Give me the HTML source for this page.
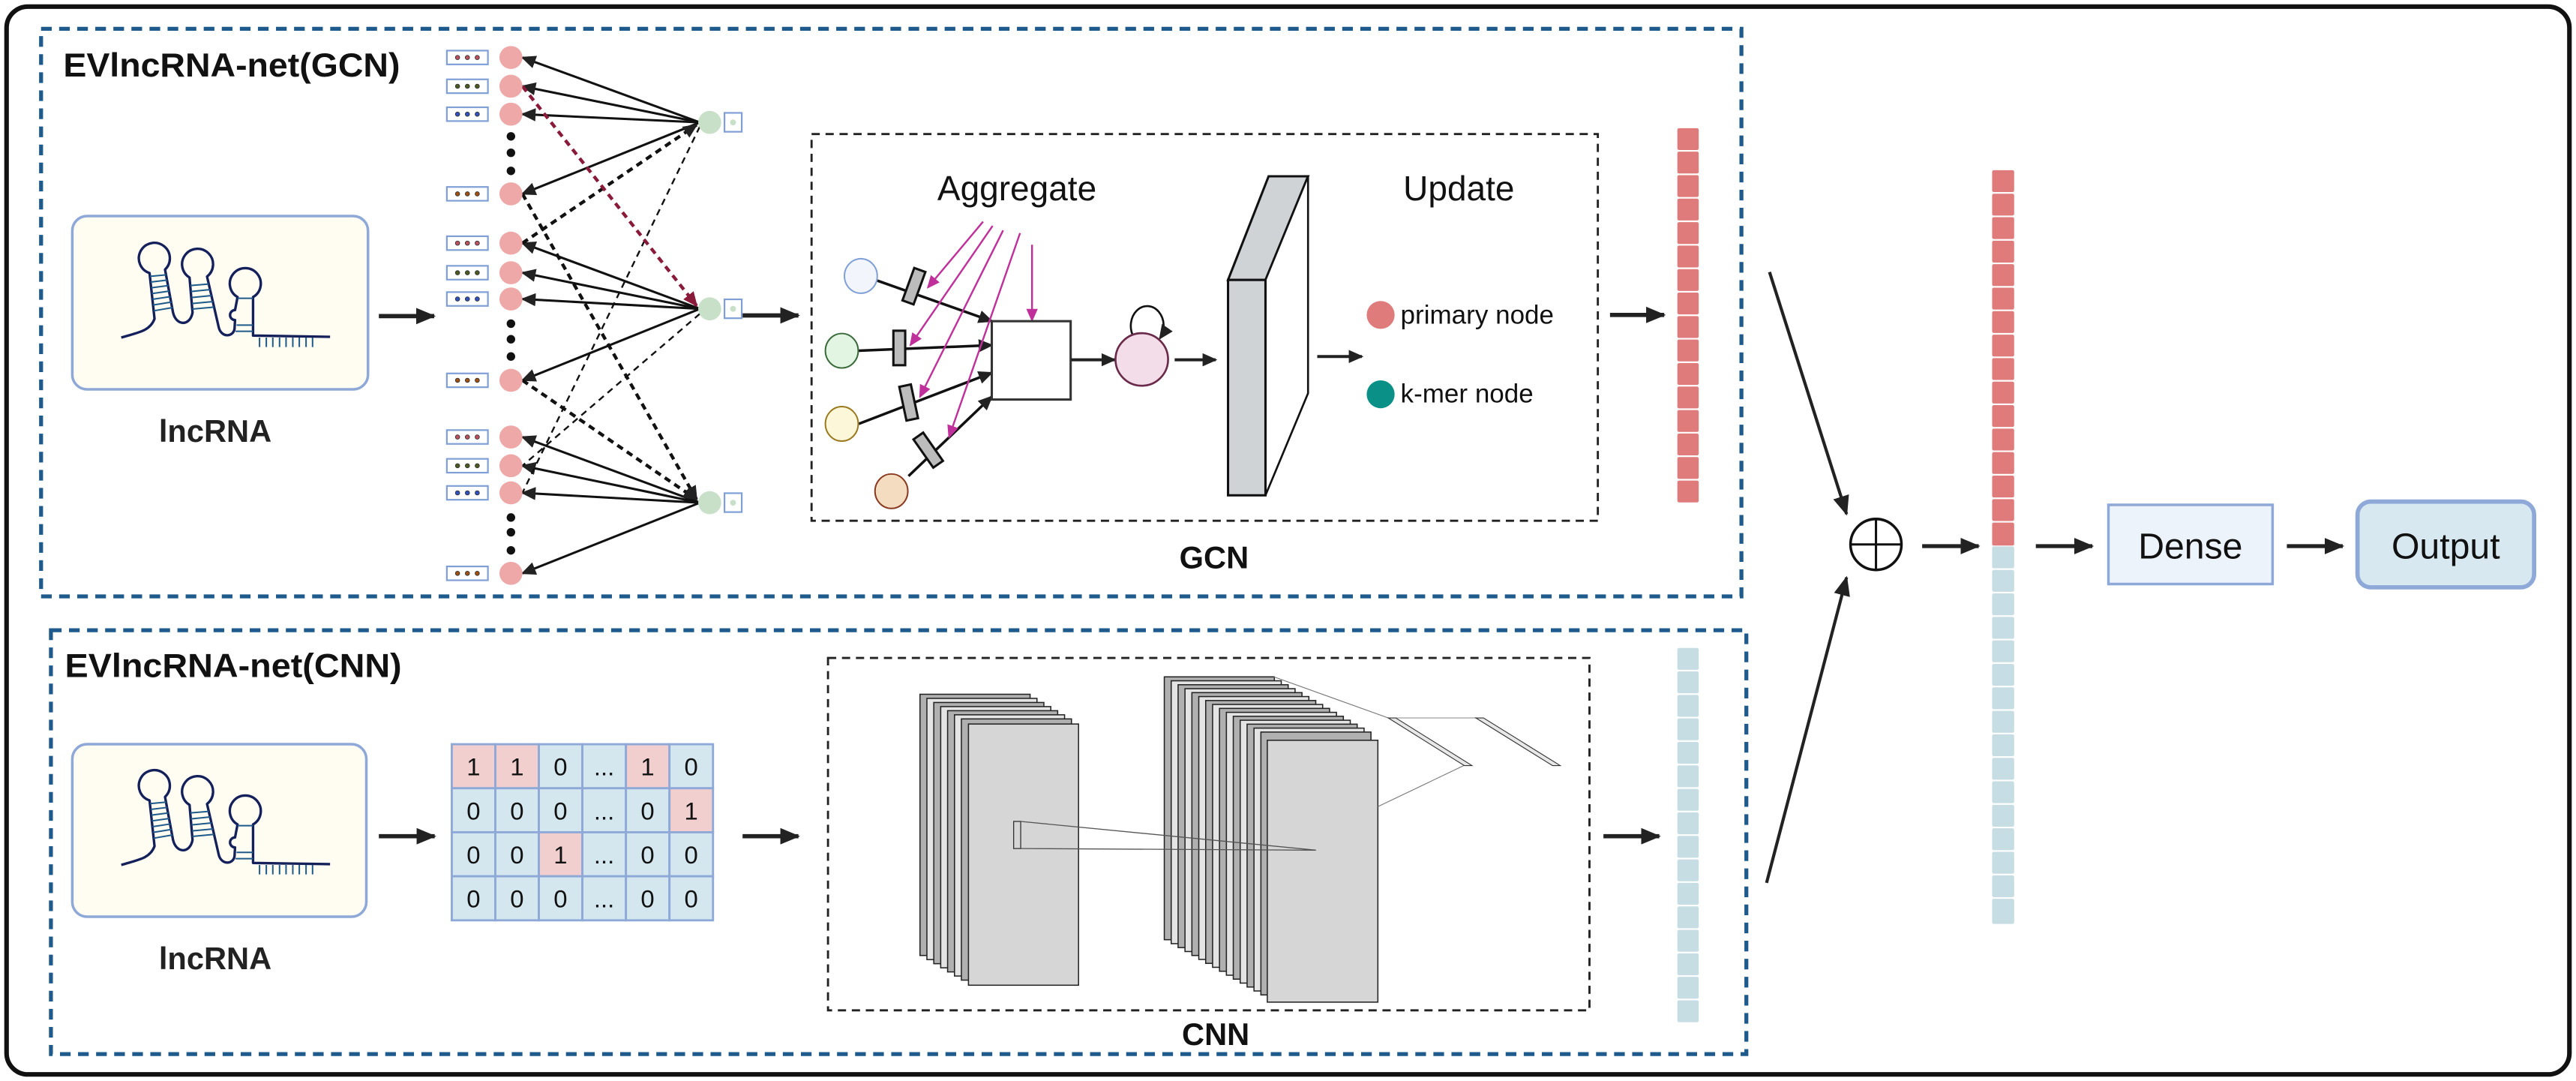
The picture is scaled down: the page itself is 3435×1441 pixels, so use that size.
<!DOCTYPE html>
<html><head><meta charset="utf-8">
<style>html,body{margin:0;padding:0;background:#fff}svg{display:block}</style>
</head><body>
<svg width="3435" height="1441" viewBox="0 0 1568 658" preserveAspectRatio="none" xmlns="http://www.w3.org/2000/svg" font-family="Liberation Sans, sans-serif">
<defs>
<marker id="ah" markerUnits="userSpaceOnUse" markerWidth="12" markerHeight="10" refX="11" refY="5" orient="auto"><path d="M0,0 L12,5 L0,10 z" fill="#222"/></marker>
<marker id="ahs" markerUnits="userSpaceOnUse" markerWidth="9" markerHeight="8" refX="8" refY="4" orient="auto"><path d="M0,0 L9,4 L0,8 z" fill="#222"/></marker>
<marker id="ahr" markerUnits="userSpaceOnUse" markerWidth="9" markerHeight="8" refX="8" refY="4" orient="auto"><path d="M0,0 L9,4 L0,8 z" fill="#8a1a3a"/></marker>
<marker id="ahm" markerUnits="userSpaceOnUse" markerWidth="8" markerHeight="7" refX="7" refY="3.5" orient="auto"><path d="M0,0 L8,3.5 L0,7 z" fill="#c0309a"/></marker>
<g id="rna">
<path d="M185,540 C250,520 300,515 318,465 L298,282 A62,62 0 1 1 360,268 L392,440 C405,495 460,495 470,440 L458,300 A62,62 0 1 1 528,296 L575,500 C585,540 632,540 638,505 L640,470 A20,20 0 0 1 640,430 L650,378 A62,62 0 1 1 712,378 L712,532 L1020,537" fill="none" stroke="#13205a" stroke-width="10" stroke-linejoin="round"/>
<g stroke="#1e5a8a" stroke-width="6">
<line x1="300" y1="295" x2="365" y2="289"/><line x1="302" y1="318" x2="369" y2="310"/><line x1="305" y1="341" x2="374" y2="332"/><line x1="307" y1="364" x2="378" y2="354"/><line x1="310" y1="387" x2="382" y2="376"/><line x1="312" y1="410" x2="386" y2="398"/><line x1="315" y1="433" x2="390" y2="420"/>
<line x1="461" y1="332" x2="535" y2="326"/><line x1="463" y1="356" x2="541" y2="348"/><line x1="466" y1="380" x2="546" y2="372"/><line x1="468" y1="404" x2="552" y2="396"/><line x1="469" y1="426" x2="556" y2="418"/>
<line x1="650" y1="383" x2="712" y2="383"/><line x1="646" y1="490" x2="712" y2="490"/><line x1="642" y1="515" x2="712" y2="515"/>
<path d="M738,540V578M765,540V578M791,540V578M818,540V578M844,540V578M871,540V578M897,540V578M924,540V578M950,540V578"/>
</g>
</g>
</defs>

<rect x="4" y="4" width="1560" height="650" rx="13" fill="#fff" stroke="#111" stroke-width="2.8"/>

<rect x="25" y="17.5" width="1035" height="345.5" fill="none" stroke="#1f5a8c" stroke-width="2.4" stroke-dasharray="6.5 4.5"/>
<text x="38.5" y="46.6" font-size="20.5" font-weight="bold" textLength="205" lengthAdjust="spacingAndGlyphs" fill="#111">EVlncRNA-net(GCN)</text>

<rect x="44" y="131.5" width="180" height="105.5" rx="9" fill="#fffcf2" stroke="#8ea9d8" stroke-width="1.6"/>
<use href="#rna" transform="scale(0.45662) translate(100,270) scale(0.33333)"/>
<text x="131" y="269" font-size="19" font-weight="bold" text-anchor="middle" fill="#222">lncRNA</text>
<line x1="230.6" y1="192.4" x2="264.3" y2="192.4" stroke="#222" stroke-width="2.6" marker-end="url(#ah)"/>

<g stroke="#111" stroke-width="1.4" fill="none">
<line x1="426" y1="74.5" x2="318" y2="35" marker-end="url(#ahs)"/>
<line x1="426" y1="74.5" x2="318" y2="52.5" marker-end="url(#ahs)"/>
<line x1="426" y1="74.5" x2="318" y2="69.5" marker-end="url(#ahs)"/>
<line x1="426" y1="74.5" x2="318" y2="118" marker-end="url(#ahs)"/>
<line x1="426" y1="188" x2="318" y2="148" marker-end="url(#ahs)"/>
<line x1="426" y1="188" x2="318" y2="166" marker-end="url(#ahs)"/>
<line x1="426" y1="188" x2="318" y2="182" marker-end="url(#ahs)"/>
<line x1="426" y1="188" x2="318" y2="231.5" marker-end="url(#ahs)"/>
<line x1="426" y1="306" x2="318" y2="266" marker-end="url(#ahs)"/>
<line x1="426" y1="306" x2="318" y2="283.5" marker-end="url(#ahs)"/>
<line x1="426" y1="306" x2="318" y2="300" marker-end="url(#ahs)"/>
<line x1="426" y1="306" x2="318" y2="349" marker-end="url(#ahs)"/>
<g stroke-dasharray="4 3" stroke-width="2">
<line x1="318" y1="118" x2="424" y2="304" marker-end="url(#ahs)"/>
<line x1="318" y1="148" x2="424" y2="76" marker-end="url(#ahs)"/>
<line x1="318" y1="231.5" x2="424" y2="304" marker-end="url(#ahs)"/>
</g>
<g stroke-dasharray="4 3" stroke-width="1.1">
<line x1="426" y1="77" x2="318" y2="300"/>
<line x1="426" y1="191" x2="318" y2="283.5"/>
</g>
<line x1="318" y1="52.5" x2="424" y2="186" stroke="#8a1a3a" stroke-width="2" stroke-dasharray="4 3" marker-end="url(#ahr)"/>
</g>

<g>
<g fill="#efa8a8">
<circle cx="311" cy="35" r="7"/><circle cx="311" cy="52.5" r="7"/><circle cx="311" cy="69.5" r="7"/><circle cx="311" cy="118" r="7"/>
<circle cx="311" cy="148" r="7"/><circle cx="311" cy="166" r="7"/><circle cx="311" cy="182" r="7"/><circle cx="311" cy="231.5" r="7"/>
<circle cx="311" cy="266" r="7"/><circle cx="311" cy="283.5" r="7"/><circle cx="311" cy="300" r="7"/><circle cx="311" cy="349" r="7"/>
</g>
<g fill="#111">
<circle cx="311" cy="83" r="2.6"/><circle cx="311" cy="93" r="2.6"/><circle cx="311" cy="104" r="2.6"/>
<circle cx="311" cy="197" r="2.6"/><circle cx="311" cy="206.5" r="2.6"/><circle cx="311" cy="217" r="2.6"/>
<circle cx="311" cy="315" r="2.6"/><circle cx="311" cy="324" r="2.6"/><circle cx="311" cy="335" r="2.6"/>
</g>
<g fill="#fff" stroke="#7f9fd6" stroke-width="1">
<rect x="272" y="30.8" width="25" height="8.4"/><rect x="272" y="48.3" width="25" height="8.4"/><rect x="272" y="65.3" width="25" height="8.4"/><rect x="272" y="113.8" width="25" height="8.4"/>
<rect x="272" y="143.8" width="25" height="8.4"/><rect x="272" y="161.8" width="25" height="8.4"/><rect x="272" y="177.8" width="25" height="8.4"/><rect x="272" y="227.3" width="25" height="8.4"/>
<rect x="272" y="261.8" width="25" height="8.4"/><rect x="272" y="279.3" width="25" height="8.4"/><rect x="272" y="295.8" width="25" height="8.4"/><rect x="272" y="344.8" width="25" height="8.4"/>
</g>
<g stroke="#333" stroke-width="0.4">
<g fill="#c05060"><circle cx="278.5" cy="35" r="1.3"/><circle cx="284.5" cy="35" r="1.3"/><circle cx="290.5" cy="35" r="1.3"/><circle cx="278.5" cy="148" r="1.3"/><circle cx="284.5" cy="148" r="1.3"/><circle cx="290.5" cy="148" r="1.3"/><circle cx="278.5" cy="266" r="1.3"/><circle cx="284.5" cy="266" r="1.3"/><circle cx="290.5" cy="266" r="1.3"/></g>
<g fill="#4a5a20"><circle cx="278.5" cy="52.5" r="1.3"/><circle cx="284.5" cy="52.5" r="1.3"/><circle cx="290.5" cy="52.5" r="1.3"/><circle cx="278.5" cy="166" r="1.3"/><circle cx="284.5" cy="166" r="1.3"/><circle cx="290.5" cy="166" r="1.3"/><circle cx="278.5" cy="283.5" r="1.3"/><circle cx="284.5" cy="283.5" r="1.3"/><circle cx="290.5" cy="283.5" r="1.3"/></g>
<g fill="#3050c0"><circle cx="278.5" cy="69.5" r="1.3"/><circle cx="284.5" cy="69.5" r="1.3"/><circle cx="290.5" cy="69.5" r="1.3"/><circle cx="278.5" cy="182" r="1.3"/><circle cx="284.5" cy="182" r="1.3"/><circle cx="290.5" cy="182" r="1.3"/><circle cx="278.5" cy="300" r="1.3"/><circle cx="284.5" cy="300" r="1.3"/><circle cx="290.5" cy="300" r="1.3"/></g>
<g fill="#a05010"><circle cx="278.5" cy="118" r="1.3"/><circle cx="284.5" cy="118" r="1.3"/><circle cx="290.5" cy="118" r="1.3"/><circle cx="278.5" cy="231.5" r="1.3"/><circle cx="284.5" cy="231.5" r="1.3"/><circle cx="290.5" cy="231.5" r="1.3"/><circle cx="278.5" cy="349" r="1.3"/><circle cx="284.5" cy="349" r="1.3"/><circle cx="290.5" cy="349" r="1.3"/></g>
</g>
</g>
<g>
<circle cx="432" cy="74.5" r="7" fill="#c8dfc8"/><circle cx="432" cy="188" r="7" fill="#c8dfc8"/><circle cx="432" cy="306" r="7" fill="#c8dfc8"/>
<g fill="#fff" stroke="#7f9fd6" stroke-width="1"><rect x="441" y="68.7" width="10.5" height="11.5"/><rect x="441" y="182.2" width="10.5" height="11.5"/><rect x="441" y="300.2" width="10.5" height="11.5"/></g>
<g fill="#c8dfc8"><circle cx="446.2" cy="74.5" r="1.8"/><circle cx="446.2" cy="188" r="1.8"/><circle cx="446.2" cy="306" r="1.8"/></g>
</g>
<line x1="452" y1="192" x2="486" y2="192" stroke="#222" stroke-width="2.6" marker-end="url(#ah)"/>

<rect x="494" y="81.6" width="478.6" height="235.4" fill="none" stroke="#222" stroke-width="1.3" stroke-dasharray="5 3.5"/>
<text x="619" y="122" font-size="21" text-anchor="middle" fill="#111">Aggregate</text>
<text x="888" y="122" font-size="21" text-anchor="middle" fill="#111">Update</text>
<text x="739" y="346" font-size="19" font-weight="bold" text-anchor="middle" fill="#111">GCN</text>

<g stroke="#111" stroke-width="1.6" fill="none">
<line x1="534" y1="170.8" x2="603.7" y2="195.5" marker-end="url(#ahs)"/>
<line x1="522.7" y1="213.5" x2="603.7" y2="210.1" marker-end="url(#ahs)"/>
<line x1="522.7" y1="258" x2="603.7" y2="226.9" marker-end="url(#ahs)"/>
<line x1="553" y1="289.8" x2="603.7" y2="241.4" marker-end="url(#ahs)"/>
</g>
<ellipse cx="524" cy="168" rx="10" ry="10.5" fill="#f2f6fc" stroke="#7f9fd6" stroke-width="0.9"/>
<ellipse cx="512.4" cy="213.5" rx="10" ry="10.5" fill="#e2f4e2" stroke="#3a6a3a" stroke-width="0.9"/>
<ellipse cx="512.4" cy="258" rx="10" ry="10.5" fill="#fbf7d8" stroke="#9a7a20" stroke-width="0.9"/>
<ellipse cx="542.6" cy="299" rx="10" ry="10.5" fill="#f4dcc0" stroke="#8a3a20" stroke-width="0.9"/>
<g fill="#bcbcbc" stroke="#111" stroke-width="1.4">
<rect x="-3.6" y="-10.5" width="7.2" height="21" transform="translate(556.3,174.2) rotate(20)"/>
<rect x="-3.6" y="-10.5" width="7.2" height="21" transform="translate(547.4,211.8)"/>
<rect x="-3.6" y="-10.5" width="7.2" height="21" transform="translate(553.1,245) rotate(-12)"/>
<rect x="-3.6" y="-10.5" width="7.2" height="21" transform="translate(565,274) rotate(-35)"/>
</g>
<g stroke="#c0309a" stroke-width="1.1">
<line x1="598.4" y1="134.9" x2="564.8" y2="175" marker-end="url(#ahm)"/>
<line x1="604.2" y1="137.5" x2="554.2" y2="210" marker-end="url(#ahm)"/>
<line x1="610.6" y1="140.2" x2="560" y2="241.5" marker-end="url(#ahm)"/>
<line x1="620.9" y1="141.9" x2="577.7" y2="266" marker-end="url(#ahm)"/>
<line x1="628.2" y1="149" x2="628.2" y2="195" marker-end="url(#ahm)"/>
</g>
<rect x="603.7" y="195.5" width="48" height="47.7" fill="#fff" stroke="#333" stroke-width="1.4"/>
<line x1="652" y1="219" x2="678.5" y2="219" stroke="#222" stroke-width="1.8" marker-end="url(#ahs)"/>
<path d="M690,205 A10,12 0 1 1 706,206" fill="none" stroke="#111" stroke-width="1.2" marker-end="url(#ahs)"/>
<circle cx="695" cy="218.8" r="16" fill="#f2dde8" stroke="#6a2a4a" stroke-width="1.2"/>
<line x1="715" y1="219" x2="740" y2="219" stroke="#222" stroke-width="1.8" marker-end="url(#ahs)"/>
<polygon points="747.5,170.4 772.2,107.3 796.2,107.3 770.3,170.4" fill="#d0d3d6" stroke="#111" stroke-width="1.4"/>
<polygon points="770.3,170.4 796.2,107.3 796.2,239.4 770.3,301.5" fill="#fff" stroke="#111" stroke-width="1.2"/>
<rect x="747.5" y="170.4" width="22.8" height="131.1" fill="#d0d3d6" stroke="#111" stroke-width="1.4"/>
<line x1="801.8" y1="217" x2="829" y2="217" stroke="#222" stroke-width="1.8" marker-end="url(#ahs)"/>
<circle cx="840.4" cy="191.7" r="8.5" fill="#e07b7b"/>
<text x="852.5" y="197" font-size="16" fill="#111">primary node</text>
<circle cx="840.4" cy="240" r="8.5" fill="#0b9088"/>
<text x="852.5" y="245" font-size="16" fill="#111">k-mer node</text>

<line x1="980" y1="191.7" x2="1013" y2="191.7" stroke="#222" stroke-width="2.6" marker-end="url(#ah)"/>
<g fill="#e07b7b">
<rect x="1021" y="78" width="13" height="13.3" rx="1"/><rect x="1021" y="92.3" width="13" height="13.3" rx="1"/><rect x="1021" y="106.6" width="13" height="13.3" rx="1"/><rect x="1021" y="120.9" width="13" height="13.3" rx="1"/>
<rect x="1021" y="135.2" width="13" height="13.3" rx="1"/><rect x="1021" y="149.5" width="13" height="13.3" rx="1"/><rect x="1021" y="163.8" width="13" height="13.3" rx="1"/><rect x="1021" y="178.1" width="13" height="13.3" rx="1"/>
<rect x="1021" y="192.4" width="13" height="13.3" rx="1"/><rect x="1021" y="206.7" width="13" height="13.3" rx="1"/><rect x="1021" y="221" width="13" height="13.3" rx="1"/><rect x="1021" y="235.3" width="13" height="13.3" rx="1"/>
<rect x="1021" y="249.6" width="13" height="13.3" rx="1"/><rect x="1021" y="263.9" width="13" height="13.3" rx="1"/><rect x="1021" y="278.2" width="13" height="13.3" rx="1"/><rect x="1021" y="292.5" width="13" height="13.3" rx="1"/>
</g>

<rect x="31" y="383.6" width="1032" height="258" fill="none" stroke="#1f5a8c" stroke-width="2.4" stroke-dasharray="6.5 4.5"/>
<text x="39.5" y="412" font-size="20.5" font-weight="bold" textLength="205" lengthAdjust="spacingAndGlyphs" fill="#111">EVlncRNA-net(CNN)</text>
<rect x="44" y="453" width="179" height="105" rx="9" fill="#fffcf2" stroke="#8ea9d8" stroke-width="1.6"/>
<use href="#rna" transform="translate(0,321) scale(0.45662) translate(100,270) scale(0.33333)"/>
<text x="131" y="590" font-size="19" font-weight="bold" text-anchor="middle" fill="#222">lncRNA</text>
<line x1="230.6" y1="509" x2="264.6" y2="509" stroke="#222" stroke-width="2.6" marker-end="url(#ah)"/>

<g stroke="#8ea9d8" stroke-width="1.3" font-size="15" text-anchor="middle">
<g fill="#d4e7ef">
<rect x="275" y="453" width="26.5" height="26.8" fill="#f2cfcf"/><rect x="301.5" y="453" width="26.5" height="26.8" fill="#f2cfcf"/><rect x="328" y="453" width="26.5" height="26.8"/><rect x="354.5" y="453" width="26.5" height="26.8"/><rect x="381" y="453" width="26.5" height="26.8" fill="#f2cfcf"/><rect x="407.5" y="453" width="26.5" height="26.8"/>
<rect x="275" y="479.8" width="26.5" height="26.8"/><rect x="301.5" y="479.8" width="26.5" height="26.8"/><rect x="328" y="479.8" width="26.5" height="26.8"/><rect x="354.5" y="479.8" width="26.5" height="26.8"/><rect x="381" y="479.8" width="26.5" height="26.8"/><rect x="407.5" y="479.8" width="26.5" height="26.8" fill="#f2cfcf"/>
<rect x="275" y="506.6" width="26.5" height="26.8"/><rect x="301.5" y="506.6" width="26.5" height="26.8"/><rect x="328" y="506.6" width="26.5" height="26.8" fill="#f2cfcf"/><rect x="354.5" y="506.6" width="26.5" height="26.8"/><rect x="381" y="506.6" width="26.5" height="26.8"/><rect x="407.5" y="506.6" width="26.5" height="26.8"/>
<rect x="275" y="533.4" width="26.5" height="26.8"/><rect x="301.5" y="533.4" width="26.5" height="26.8"/><rect x="328" y="533.4" width="26.5" height="26.8"/><rect x="354.5" y="533.4" width="26.5" height="26.8"/><rect x="381" y="533.4" width="26.5" height="26.8"/><rect x="407.5" y="533.4" width="26.5" height="26.8"/>
</g>
<g fill="#111" stroke="none">
<text x="288.2" y="472">1</text><text x="314.7" y="472">1</text><text x="341.2" y="472">0</text><text x="367.7" y="472">...</text><text x="394.2" y="472">1</text><text x="420.7" y="472">0</text>
<text x="288.2" y="498.8">0</text><text x="314.7" y="498.8">0</text><text x="341.2" y="498.8">0</text><text x="367.7" y="498.8">...</text><text x="394.2" y="498.8">0</text><text x="420.7" y="498.8">1</text>
<text x="288.2" y="525.6">0</text><text x="314.7" y="525.6">0</text><text x="341.2" y="525.6">1</text><text x="367.7" y="525.6">...</text><text x="394.2" y="525.6">0</text><text x="420.7" y="525.6">0</text>
<text x="288.2" y="552.4">0</text><text x="314.7" y="552.4">0</text><text x="341.2" y="552.4">0</text><text x="367.7" y="552.4">...</text><text x="394.2" y="552.4">0</text><text x="420.7" y="552.4">0</text>
</g>
</g>
<line x1="452" y1="509" x2="486" y2="509" stroke="#222" stroke-width="2.6" marker-end="url(#ah)"/>

<rect x="504" y="400.5" width="463.5" height="214.5" fill="none" stroke="#222" stroke-width="1.3" stroke-dasharray="5 3.5"/>
<text x="740" y="636" font-size="19" font-weight="bold" text-anchor="middle" fill="#111">CNN</text>

<g stroke="#222" stroke-width="0.7">
<rect x="560" y="422.6" width="67" height="159" fill="#b0b0b0"/>
<rect x="564.2" y="425.1" width="67" height="159" fill="#e4e4e4"/>
<rect x="568.4" y="427.6" width="67" height="159" fill="#b0b0b0"/>
<rect x="572.6" y="430.1" width="67" height="159" fill="#e4e4e4"/>
<rect x="576.8" y="432.6" width="67" height="159" fill="#b0b0b0"/>
<rect x="581" y="435.1" width="67" height="159" fill="#e4e4e4"/>
<rect x="585.2" y="437.6" width="67" height="159" fill="#b0b0b0"/>
<rect x="589.5" y="440.7" width="67" height="159" fill="#d6d6d6"/>
</g>
<g stroke="#222" stroke-width="0.7">
<rect x="708.7" y="412" width="67" height="160" fill="#b0b0b0"/>
<rect x="712.9" y="414.4" width="67" height="160" fill="#e4e4e4"/>
<rect x="717.1" y="416.8" width="67" height="160" fill="#b0b0b0"/>
<rect x="721.3" y="419.2" width="67" height="160" fill="#e4e4e4"/>
<rect x="725.5" y="421.6" width="67" height="160" fill="#b0b0b0"/>
<rect x="729.7" y="424" width="67" height="160" fill="#e4e4e4"/>
<rect x="733.9" y="426.4" width="67" height="160" fill="#b0b0b0"/>
<rect x="738.1" y="428.8" width="67" height="160" fill="#e4e4e4"/>
<rect x="742.3" y="431.2" width="67" height="160" fill="#b0b0b0"/>
<rect x="746.5" y="433.6" width="67" height="160" fill="#e4e4e4"/>
<rect x="750.7" y="436" width="67" height="160" fill="#b0b0b0"/>
<rect x="754.9" y="438.4" width="67" height="160" fill="#e4e4e4"/>
<rect x="759.1" y="440.8" width="67" height="160" fill="#b0b0b0"/>
<rect x="763.3" y="443.2" width="67" height="160" fill="#e4e4e4"/>
<rect x="767.5" y="445.6" width="67" height="160" fill="#b0b0b0"/>
<rect x="771.4" y="450.6" width="67.3" height="159.4" fill="#d6d6d6"/>
</g>
<rect x="617" y="500" width="4.3" height="16.5" fill="none" stroke="#333" stroke-width="0.6"/>
<path d="M621.3,500 L801,517.5 L621.3,516.5" fill="none" stroke="#555" stroke-width="0.6"/>
<path d="M775.4,412 L845,437 M838.7,491 L891,466" fill="none" stroke="#777" stroke-width="0.5"/>
<line x1="849.6" y1="437" x2="898.3" y2="437" stroke="#bbb" stroke-width="0.8"/>
<polygon points="845,437 849.6,437 896,466 891.3,466" fill="#e8e8e8" stroke="#333" stroke-width="0.5"/>
<polygon points="898.3,437 903,437 949.7,466 945,466" fill="#e8e8e8" stroke="#333" stroke-width="0.5"/>

<line x1="976" y1="509" x2="1010" y2="509" stroke="#222" stroke-width="2.6" marker-end="url(#ah)"/>
<g fill="#c6dde4">
<rect x="1021" y="394.4" width="13" height="13.3" rx="1"/><rect x="1021" y="408.7" width="13" height="13.3" rx="1"/><rect x="1021" y="423" width="13" height="13.3" rx="1"/><rect x="1021" y="437.3" width="13" height="13.3" rx="1"/>
<rect x="1021" y="451.6" width="13" height="13.3" rx="1"/><rect x="1021" y="465.9" width="13" height="13.3" rx="1"/><rect x="1021" y="480.2" width="13" height="13.3" rx="1"/><rect x="1021" y="494.5" width="13" height="13.3" rx="1"/>
<rect x="1021" y="508.8" width="13" height="13.3" rx="1"/><rect x="1021" y="523.1" width="13" height="13.3" rx="1"/><rect x="1021" y="537.4" width="13" height="13.3" rx="1"/><rect x="1021" y="551.7" width="13" height="13.3" rx="1"/>
<rect x="1021" y="566" width="13" height="13.3" rx="1"/><rect x="1021" y="580.3" width="13" height="13.3" rx="1"/><rect x="1021" y="594.6" width="13" height="13.3" rx="1"/><rect x="1021" y="608.9" width="13" height="13.3" rx="1"/>
</g>

<line x1="1077.1" y1="165.6" x2="1124" y2="312.9" stroke="#222" stroke-width="1.9" marker-end="url(#ah)"/>
<line x1="1075.3" y1="537.4" x2="1124" y2="351.5" stroke="#222" stroke-width="1.9" marker-end="url(#ah)"/>
<circle cx="1141.9" cy="331.4" r="15.5" fill="#fff" stroke="#111" stroke-width="1.6"/>
<path d="M1126.4,331.4 H1157.4 M1141.9,315.9 V346.9" stroke="#111" stroke-width="1.4"/>
<line x1="1170" y1="332.4" x2="1204.4" y2="332.4" stroke="#222" stroke-width="2.4" marker-end="url(#ah)"/>
<g fill="#e07b7b">
<rect x="1212.6" y="103.6" width="13.4" height="13.3" rx="1"/><rect x="1212.6" y="117.9" width="13.4" height="13.3" rx="1"/><rect x="1212.6" y="132.2" width="13.4" height="13.3" rx="1"/><rect x="1212.6" y="146.5" width="13.4" height="13.3" rx="1"/>
<rect x="1212.6" y="160.8" width="13.4" height="13.3" rx="1"/><rect x="1212.6" y="175.1" width="13.4" height="13.3" rx="1"/><rect x="1212.6" y="189.4" width="13.4" height="13.3" rx="1"/><rect x="1212.6" y="203.7" width="13.4" height="13.3" rx="1"/>
<rect x="1212.6" y="218" width="13.4" height="13.3" rx="1"/><rect x="1212.6" y="232.3" width="13.4" height="13.3" rx="1"/><rect x="1212.6" y="246.6" width="13.4" height="13.3" rx="1"/><rect x="1212.6" y="260.9" width="13.4" height="13.3" rx="1"/>
<rect x="1212.6" y="275.2" width="13.4" height="13.3" rx="1"/><rect x="1212.6" y="289.5" width="13.4" height="13.3" rx="1"/><rect x="1212.6" y="303.8" width="13.4" height="13.3" rx="1"/><rect x="1212.6" y="318.1" width="13.4" height="14" rx="1"/>
</g>
<g fill="#c6dde4">
<rect x="1212.6" y="332.6" width="13.4" height="13.3" rx="1"/><rect x="1212.6" y="346.9" width="13.4" height="13.3" rx="1"/><rect x="1212.6" y="361.2" width="13.4" height="13.3" rx="1"/><rect x="1212.6" y="375.5" width="13.4" height="13.3" rx="1"/>
<rect x="1212.6" y="389.8" width="13.4" height="13.3" rx="1"/><rect x="1212.6" y="404.1" width="13.4" height="13.3" rx="1"/><rect x="1212.6" y="418.4" width="13.4" height="13.3" rx="1"/><rect x="1212.6" y="432.7" width="13.4" height="13.3" rx="1"/>
<rect x="1212.6" y="447" width="13.4" height="13.3" rx="1"/><rect x="1212.6" y="461.3" width="13.4" height="13.3" rx="1"/><rect x="1212.6" y="475.6" width="13.4" height="13.3" rx="1"/><rect x="1212.6" y="489.9" width="13.4" height="13.3" rx="1"/>
<rect x="1212.6" y="504.2" width="13.4" height="13.3" rx="1"/><rect x="1212.6" y="518.5" width="13.4" height="13.3" rx="1"/><rect x="1212.6" y="532.8" width="13.4" height="13.3" rx="1"/><rect x="1212.6" y="547.1" width="13.4" height="15.3" rx="1"/>
</g>
<line x1="1239.2" y1="332.4" x2="1273.6" y2="332.4" stroke="#222" stroke-width="2.4" marker-end="url(#ah)"/>
<rect x="1283.4" y="307.3" width="99.9" height="48.2" fill="#ecf3fb" stroke="#8ea9d8" stroke-width="1.6"/>
<text x="1333.3" y="340" font-size="22" text-anchor="middle" fill="#111">Dense</text>
<line x1="1392" y1="332.4" x2="1426" y2="332.4" stroke="#222" stroke-width="2.4" marker-end="url(#ah)"/>
<rect x="1435" y="305.3" width="107.5" height="52.2" rx="8" fill="#d8e8f0" stroke="#8ea9d8" stroke-width="2.6"/>
<text x="1488.7" y="340" font-size="22" text-anchor="middle" fill="#111">Output</text>
</svg>
</body></html>
